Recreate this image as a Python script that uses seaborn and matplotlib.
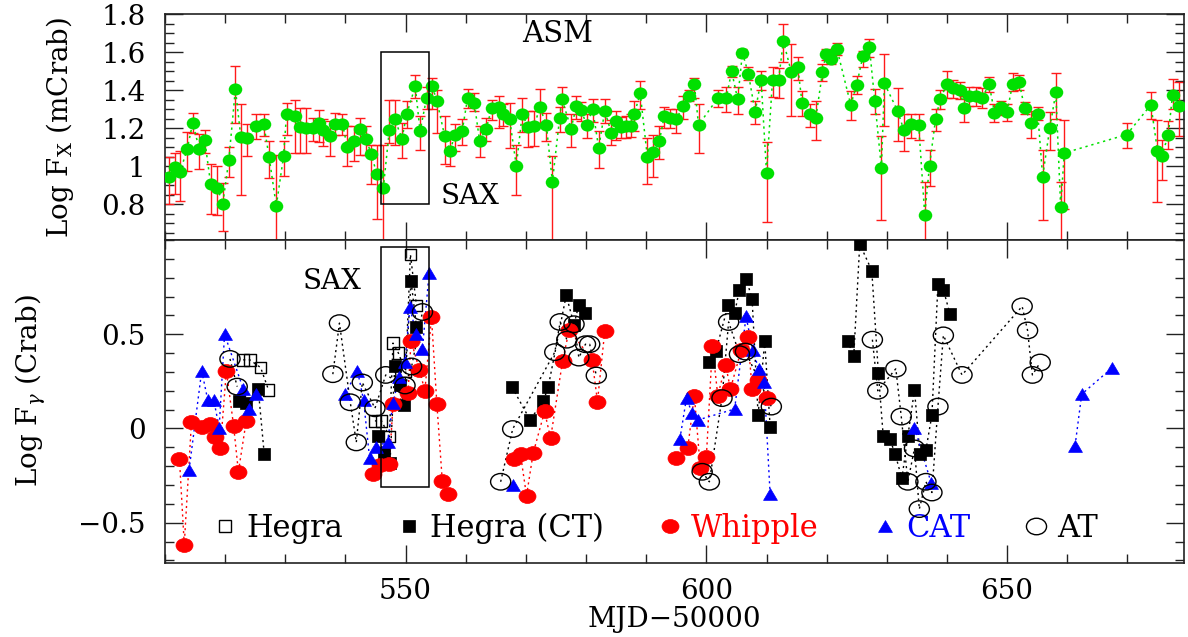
import numpy as np
import pandas as pd
import matplotlib
matplotlib.use("Agg")
import matplotlib.pyplot as plt
import seaborn as sns
from matplotlib.path import Path
from matplotlib.patches import Rectangle
from matplotlib.lines import Line2D
from matplotlib.ticker import MultipleLocator, FuncFormatter, FixedLocator

# ---------------- data: RXTE ASM (top panel) ----------------
asm_mjd = [510.6, 511.7, 512.5, 513.7, 514.6, 515.7, 516.6, 517.6, 518.7, 519.6,
           520.6, 521.7, 522.6, 523.7, 525.2, 526.4, 527.3, 528.5, 529.7, 530.2,
           531.6, 532.4, 533.5, 534.6, 535.6, 536.3, 537.4, 538.2, 539.5, 540.3,
           541.5, 542.4, 543.4, 544.3, 545.2, 546.3, 547.3, 548.2, 549.4, 550.2,
           551.6, 552.4, 553.5, 554.4, 555.2, 556.5, 557.4, 558.2, 559.4, 560.3,
           561.4, 562.3, 563.4, 564.3, 565.6, 566.2, 567.3, 568.4, 569.4, 570.3,
           571.4, 572.3, 573.4, 574.4, 575.6, 576.0, 577.5, 578.4, 579.2, 580.1,
           581.1, 582.1, 583.1, 584.2, 585.0, 585.8, 586.7, 587.5, 588.0, 589.0,
           590.2, 591.1, 592.2, 593.0, 594.0, 595.0, 596.1, 597.1, 598.0, 598.7,
           601.9, 603.3, 604.2, 605.2, 606.0, 607.0, 608.1, 609.1, 610.0, 611.0,
           612.0, 612.8, 614.1, 615.2, 615.9, 617.2, 618.2, 619.3, 619.9, 620.7,
           621.7, 624.0, 625.0, 626.0, 627.1, 628.0, 629.1, 629.6, 631.8, 632.8,
           634.0, 635.3, 636.3, 637.1, 638.1, 638.9, 640.0, 641.0, 642.1, 642.9,
           643.7, 644.8, 645.9, 647.0, 647.9, 649.0, 650.0, 650.9, 652.0, 652.9,
           654.0, 655.1, 655.9, 657.1, 658.1, 658.9, 659.5, 669.9, 673.9, 675.0,
           675.7, 676.8, 677.5, 678.6]
asm_logf = [0.946, 0.999, 0.969, 1.093, 1.227, 1.091, 1.137, 0.905, 0.888, 0.804,
            1.031, 1.406, 1.155, 1.149, 1.211, 1.224, 1.050, 0.792, 1.052, 1.273,
            1.264, 1.206, 1.202, 1.202, 1.225, 1.193, 1.158, 1.224, 1.224, 1.101,
            1.131, 1.197, 1.146, 1.064, 0.960, 0.888, 1.193, 1.247, 1.146, 1.277,
            1.420, 1.185, 1.361, 1.423, 1.344, 1.158, 1.082, 1.167, 1.185, 1.358,
            1.335, 1.135, 1.197, 1.305, 1.312, 1.273, 1.247, 1.002, 1.277, 1.206,
            1.211, 1.312, 1.217, 0.919, 1.252, 1.353, 1.197, 1.317, 1.294, 1.217,
            1.300, 1.096, 1.291, 1.176, 1.238, 1.206, 1.211, 1.211, 1.273, 1.383,
            1.047, 1.073, 1.135, 1.264, 1.255, 1.247, 1.317, 1.370, 1.432, 1.217,
            1.358, 1.358, 1.499, 1.353, 1.597, 1.485, 1.285, 1.455, 0.967, 1.455,
            1.453, 1.657, 1.498, 1.521, 1.335, 1.273, 1.255, 1.494, 1.592, 1.565,
            1.618, 1.323, 1.429, 1.577, 1.627, 1.344, 0.990, 1.436, 1.291, 1.193,
            1.220, 1.217, 0.746, 1.004, 1.247, 1.356, 1.432, 1.411, 1.400, 1.308,
            1.370, 1.370, 1.361, 1.432, 1.282, 1.312, 1.285, 1.432, 1.441, 1.308,
            1.229, 1.277, 0.946, 1.202, 1.388, 0.787, 1.070, 1.167, 1.323, 1.082,
            1.052, 1.167, 1.376, 1.317]
asm_lo = [0.804, 0.857, 0.817, 0.976, 1.176, 0.985, 1.070, 0.751, 0.742, 0.661,
          0.946, 1.229, 0.849, 1.052, 1.146, 1.158, 0.940, 0.600, 0.951, 1.167,
          1.070, 1.070, 1.070, 1.131, 1.128, 1.105, 1.052, 1.163, 1.167, 1.002,
          1.029, 1.061, 1.061, 0.905, 0.725, 0.600, 1.123, 1.114, 1.043, 1.199,
          1.361, 1.087, 1.300, 1.300, 1.176, 1.011, 1.000, 1.079, 1.110, 1.305,
          1.290, 1.047, 1.131, 1.241, 1.200, 1.210, 1.096, 0.849, 1.181, 1.100,
          1.105, 1.229, 1.135, 0.600, 1.181, 1.273, 1.100, 1.247, 1.240, 1.149,
          1.234, 0.990, 1.229, 1.110, 1.140, 1.150, 1.150, 1.155, 1.185, 1.300,
          0.905, 0.946, 1.040, 1.202, 1.199, 1.176, 1.247, 1.344, 1.361, 1.070,
          1.312, 1.287, 1.467, 1.273, 1.574, 1.453, 1.224, 1.400, 0.707, 1.364,
          1.360, 1.547, 1.264, 1.453, 1.264, 1.206, 1.140, 1.450, 1.560, 1.535,
          1.583, 1.241, 1.379, 1.521, 1.574, 1.273, 0.716, 1.211, 1.131, 1.082,
          1.149, 1.140, 0.600, 0.898, 1.188, 1.300, 1.361, 1.358, 1.353, 1.234,
          1.317, 1.317, 1.308, 1.388, 1.234, 1.270, 1.240, 1.397, 1.400, 1.275,
          1.150, 1.245, 0.716, 1.087, 1.246, 0.600, 0.778, 1.096, 1.247, 0.813,
          0.928, 1.090, 1.300, 1.158]
asm_hi = [1.049, 1.070, 1.078, 1.179, 1.278, 1.170, 1.193, 1.013, 1.000, 0.911,
          1.100, 1.526, 1.326, 1.220, 1.273, 1.273, 1.135, 1.061, 1.132, 1.335,
          1.347, 1.308, 1.305, 1.255, 1.294, 1.246, 1.238, 1.282, 1.273, 1.211,
          1.211, 1.255, 1.211, 1.110, 1.110, 1.110, 1.347, 1.347, 1.229, 1.344,
          1.482, 1.264, 1.418, 1.464, 1.400, 1.264, 1.176, 1.224, 1.246, 1.406,
          1.385, 1.211, 1.255, 1.347, 1.370, 1.330, 1.335, 1.114, 1.358, 1.291,
          1.291, 1.406, 1.282, 1.052, 1.312, 1.418, 1.273, 1.370, 1.340, 1.273,
          1.353, 1.185, 1.353, 1.241, 1.291, 1.260, 1.265, 1.273, 1.344, 1.450,
          1.149, 1.167, 1.211, 1.312, 1.300, 1.300, 1.370, 1.400, 1.464, 1.326,
          1.400, 1.418, 1.529, 1.418, 1.618, 1.520, 1.344, 1.503, 1.128, 1.520,
          1.515, 1.745, 1.644, 1.574, 1.394, 1.330, 1.344, 1.538, 1.618, 1.592,
          1.648, 1.397, 1.476, 1.606, 1.671, 1.406, 1.158, 1.588, 1.411, 1.276,
          1.276, 1.276, 0.919, 1.087, 1.300, 1.400, 1.503, 1.453, 1.441, 1.370,
          1.418, 1.418, 1.410, 1.470, 1.326, 1.345, 1.330, 1.489, 1.480, 1.340,
          1.290, 1.310, 1.087, 1.287, 1.489, 0.919, 1.241, 1.229, 1.388, 1.241,
          1.140, 1.240, 1.459, 1.444]

# ---------------- data: TeV instruments (bottom panel) ----------------
whipple_mjd = [512.4, 513.2, 514.4, 516.1, 517.4, 518.3, 519.2, 520.2, 521.4, 522.2,
               523.5, 544.6, 545.7, 547.3, 547.9, 550.4, 550.9, 552.3, 553.2, 554.3,
               555.2, 556.1, 557.1, 568.0, 569.1, 570.1, 571.2, 573.1, 574.1, 576.1,
               577.2, 581.0, 581.9, 583.1, 595.0, 596.9, 598.0, 599.0, 600.0, 601.0,
               601.9, 603.2, 604.0, 605.8, 606.9, 607.6, 608.6, 610.1]
whipple_logf = [-0.162, -0.616, 0.036, 0.010, 0.022, -0.047, -0.102, 0.306, 0.015, -0.230,
                0.040, -0.244, -0.194, -0.190, 0.128, 0.187, 0.465, 0.311, 0.200, 0.590,
                0.128, -0.279, -0.350, -0.162, -0.138, -0.357, -0.132, 0.090, -0.052, 0.359,
                0.524, 0.364, 0.143, 0.515, -0.159, -0.105, 0.174, -0.212, -0.150, 0.435,
                0.174, 0.338, 0.210, 0.417, 0.483, 0.210, 0.258, 0.161]

cat_mjd = [514.0, 516.1, 517.1, 518.1, 519.0, 519.9, 523.0, 524.0, 525.1, 539.9,
           542.0, 543.0, 544.0, 545.1, 547.0, 547.9, 548.9, 549.9, 550.7, 551.8,
           552.8, 553.9, 567.9, 595.6, 596.7, 597.6, 598.6, 604.7, 606.6, 607.7,
           608.7, 609.6, 610.6, 634.6, 637.4, 661.3, 662.4, 667.4]
cat_logf = [-0.221, 0.306, 0.152, 0.152, 0.004, 0.500, 0.210, 0.104, 0.182, 0.182,
            0.306, 0.152, -0.155, -0.097, -0.070, 0.134, 0.275, 0.352, 0.642, 0.500,
            0.422, 0.825, -0.301, -0.056, 0.163, 0.081, 0.045, 0.103, 0.595, 0.417,
            0.316, 0.249, -0.350, 0.004, -0.292, -0.091, 0.182, 0.320]

hegra_mjd = [523.0, 524.1, 525.9, 527.2, 544.9, 546.0, 547.3, 547.9, 548.8, 550.0,
             550.8, 551.8]
hegra_logf = [0.364, 0.364, 0.323, 0.205, 0.040, 0.040, -0.043, 0.453, 0.400, 0.302,
              0.923, 0.653]

hegra_ct_mjd = [522.3, 523.5, 525.5, 526.5, 545.4, 546.4, 547.4, 548.2, 549.0, 549.7,
                550.9, 551.8, 567.7, 570.7, 572.9, 573.7, 576.7, 578.0, 578.8, 579.8,
                600.5, 601.6, 603.6, 604.7, 605.5, 606.6, 607.6, 608.6, 609.7, 610.6,
                623.5, 624.5, 625.5, 627.5, 628.6, 629.4, 630.5, 631.4, 632.5, 633.5,
                634.6, 635.5, 636.5, 637.5, 638.5, 639.4, 640.5]
hegra_ct_logf = [0.148, 0.134, 0.210, -0.138, -0.038, -0.132, -0.185, 0.334, 0.228, 0.125,
                 0.784, 0.541, 0.219, 0.045, 0.146, 0.219, 0.707, 0.551, 0.657, 0.613,
                 0.352, 0.412, 0.653, 0.613, 0.737, 0.795, 0.689, 0.072, 0.462, 0.010,
                 0.465, 0.382, 0.979, 0.838, 0.293, -0.040, -0.056, -0.137, -0.265, -0.040,
                 0.205, -0.137, -0.114, 0.072, 0.767, 0.737, 0.607]

at_mjd = [520.8, 522.0, 537.9, 539.0, 540.8, 541.8, 542.8, 544.9, 546.7, 549.9,
          551.0, 552.8, 565.8, 567.8, 574.8, 575.7, 576.8, 578.0, 578.8, 579.9,
          580.6, 581.7, 599.3, 600.5, 602.6, 603.7, 605.5, 606.5, 610.8, 627.6,
          628.5, 631.5, 632.4, 633.5, 634.6, 635.4, 636.5, 637.5, 638.5, 639.4,
          642.5, 652.5, 653.4, 654.2, 655.5]
at_logf = [0.369, 0.222, 0.288, 0.559, 0.139, -0.074, 0.244, 0.107, 0.284, 0.228,
           0.329, 0.618, -0.283, -0.003, 0.405, 0.565, 0.471, 0.553, 0.376, 0.447,
           0.447, 0.281, -0.230, -0.283, 0.161, 0.565, 0.394, 0.408, 0.116, 0.471,
           0.200, 0.317, 0.063, -0.283, -0.106, -0.428, -0.283, -0.340, 0.116, 0.494,
           0.284, 0.648, 0.520, 0.284, 0.350]

instrument_labels = ["Hegra", "Hegra (CT)", "Whipple", "CAT", "AT"]
x_ticks = [550, 600, 650]
top_yticks = [0.8, 1.0, 1.2, 1.4, 1.6, 1.8]
bottom_yticks = [-0.5, 0.0, 0.5]

# ---------------- styling ----------------
sns.set_theme(style="ticks")
plt.rcParams["font.family"] = ["DejaVu Serif", "DejaVu Sans"]
plt.rcParams["mathtext.fontset"] = "dejavuserif"
plt.rcParams["axes.unicode_minus"] = True
plt.rcParams["text.color"] = "black"
plt.rcParams["axes.labelcolor"] = "black"
plt.rcParams["xtick.color"] = "black"
plt.rcParams["ytick.color"] = "black"

FS = 20
circ = Path.unit_circle()
ellipse = Path(circ.vertices * np.array([1.0, 0.82]), circ.codes)
flat_ellipse = Path(circ.vertices * np.array([1.0, 0.9]), circ.codes)
tri = Path([(0, 0.85), (-1, -0.85), (1, -0.85), (0, 0.85)],
           [Path.MOVETO, Path.LINETO, Path.LINETO, Path.CLOSEPOLY])

GREEN = "#00e000"

fig = plt.figure(figsize=(11.88, 6.37), dpi=100)
ax1 = fig.add_axes([0.1389, 0.6232, 0.8577, 0.3548])
ax2 = fig.add_axes([0.1389, 0.1162, 0.8577, 0.5070])

# ---------------- top panel ----------------
asm = pd.DataFrame({"mjd": asm_mjd, "logf": asm_logf, "lo": asm_lo, "hi": asm_hi})
ax1.errorbar(asm["mjd"], asm["logf"],
             yerr=[asm["logf"] - asm["lo"], asm["hi"] - asm["logf"]],
             fmt="none", ecolor="#ff1a1a", elinewidth=1.0, capsize=3.6, capthick=1.0,
             zorder=2)
sns.lineplot(data=asm, x="mjd", y="logf", estimator=None, sort=True, ax=ax1,
             color=GREEN, linestyle=(0, (1.5, 2.5)), lw=1.1, zorder=3, legend=False)
sns.scatterplot(data=asm, x="mjd", y="logf", ax=ax1, marker=flat_ellipse, s=95,
                color=GREEN, edgecolor=GREEN, linewidth=0, zorder=4, legend=False)

ax1.add_patch(Rectangle((545.9, 0.8), 7.95, 0.8, fill=False, ec="black", lw=1.1, zorder=5))
ax1.text(575.3, 1.694, "ASM", ha="center", va="center", fontsize=FS + 1)
ax1.text(560.7, 0.84, "SAX", ha="center", va="center", fontsize=FS)

# ---------------- bottom panel ----------------
def frame(mjd, val):
    d = pd.DataFrame({"mjd": mjd, "logf": val}).sort_values("mjd")
    d["seg"] = (d["mjd"].diff() > 10).cumsum()
    return d

series = [
    (frame(hegra_mjd, hegra_logf), "black", "s", 70, "none", "black", 1.0),
    (frame(hegra_ct_mjd, hegra_ct_logf), "black", "s", 85, "black", "black", 0.5),
    (frame(whipple_mjd, whipple_logf), "red", ellipse, 150, "red", "red", 0.5),
    (frame(cat_mjd, cat_logf), "blue", tri, 100, "blue", "blue", 0.5),
    (frame(at_mjd, at_logf), "black", ellipse, 210, "none", "black", 1.0),
]

for (d, lc, mk, sz, fc, ec, lw) in series:
    sns.lineplot(data=d, x="mjd", y="logf", units="seg", estimator=None, sort=True,
                 ax=ax2, color=lc, linestyle=(0, (1.5, 2.5)), lw=1.0, legend=False,
                 zorder=2)
for i, (d, lc, mk, sz, fc, ec, lw) in enumerate(series):
    sns.scatterplot(data=d, x="mjd", y="logf", ax=ax2, marker=mk, s=sz,
                    facecolor=fc, edgecolor=ec, linewidth=lw, zorder=3 + i, legend=False)

ax2.add_patch(Rectangle((545.9, -0.309), 7.95, 1.271, fill=False, ec="black", lw=1.1,
                        zorder=10))
ax2.text(537.7, 0.781, "SAX", ha="center", va="center", fontsize=FS)

handles = []
for (d, lc, mk, sz, fc, ec, lw) in series:
    handles.append(Line2D([], [], linestyle="none", marker=mk, markersize=np.sqrt(sz),
                          markerfacecolor=fc, markeredgecolor=ec, markeredgewidth=lw))
ax2.legend(handles, instrument_labels, loc="center left", bbox_to_anchor=(0.05, 0.108),
           ncol=5, frameon=False, fontsize=FS + 2, handlelength=0.6, handletextpad=0.4,
           columnspacing=1.85, borderpad=0, borderaxespad=0,
           labelcolor=["black", "black", "red", "blue", "black"])

# ---------------- axes cosmetics ----------------
for ax in (ax1, ax2):
    ax.set_xlim(510, 679.4)
    ax.xaxis.set_major_locator(FixedLocator(x_ticks))
    ax.xaxis.set_minor_locator(MultipleLocator(10))
    ax.tick_params(which="both", direction="in", top=True, right=True,
                   width=1.0, colors="#222222", labelsize=FS, labelcolor="black")
    ax.tick_params(which="major", length=13)
    ax.tick_params(which="minor", length=6.5)
    ax.tick_params(axis="y", pad=14)
    ax.tick_params(axis="x", pad=11)
    for sp in ax.spines.values():
        sp.set_linewidth(1.2)
        sp.set_color("#222222")
    ax.set_xlabel("")
    ax.set_ylabel("")

fmt = FuncFormatter(lambda v, p: f"{v:g}".replace("-", "\u2212"))
ax1.set_ylim(0.613, 1.8)
ax1.yaxis.set_major_locator(FixedLocator(top_yticks))
ax1.yaxis.set_minor_locator(MultipleLocator(0.05))
ax1.yaxis.set_major_formatter(fmt)
ax1.tick_params(axis="x", labelbottom=False)

ax2.set_ylim(-0.714, 1.0)
ax2.yaxis.set_major_locator(FixedLocator(bottom_yticks))
ax2.yaxis.set_minor_locator(MultipleLocator(0.1))
ax2.yaxis.set_major_formatter(fmt)
ax2.xaxis.set_major_formatter(FuncFormatter(lambda v, p: f"{v:g}"))

ax1.set_ylabel("Log F$_{\\rm X}$ (mCrab)", fontsize=FS, va="center", color="black")
ax1.yaxis.set_label_coords(-0.103, 0.5)
ax2.set_ylabel("Log F$_{\\gamma}$ (Crab)", fontsize=FS, va="center", color="black")
ax2.yaxis.set_label_coords(-0.1315, 0.533)
ax2.set_xlabel("MJD\u221250000", fontsize=FS, va="center", color="black")
ax2.xaxis.set_label_coords(0.5, -0.176)

fig.savefig("out.png", dpi=100)
